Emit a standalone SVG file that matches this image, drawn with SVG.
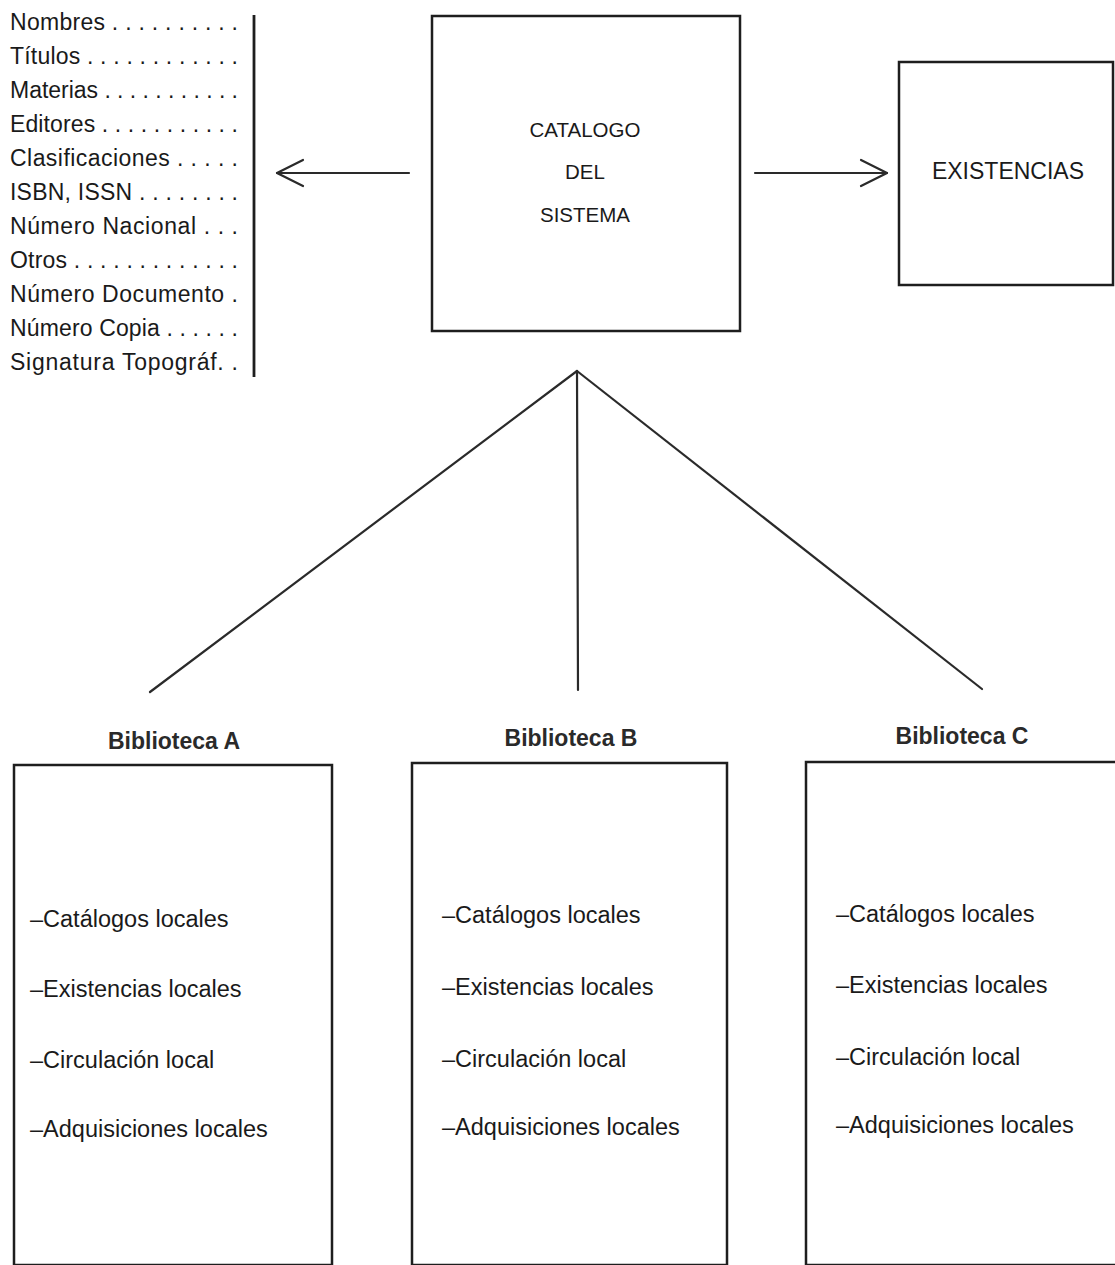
<svg xmlns="http://www.w3.org/2000/svg" width="1115" height="1265" viewBox="0 0 1115 1265">
<style>
.bg{fill:#ffffff}
.box{fill:none;stroke:#1e1e1e;stroke-width:2.5}
.ln{fill:none;stroke:#2a2a2a;stroke-width:2.2;stroke-linecap:round;stroke-linejoin:round}
.t{font-family:"Liberation Sans",Arial,Helvetica,sans-serif;fill:#1a1a1a}
.list{font-size:23px}
.cat{font-size:20.5px;text-anchor:middle}
.ex{font-size:23px;text-anchor:middle}
.title{font-size:23px;font-weight:bold;text-anchor:middle;fill:#2a2a2a}
.item{font-size:23.5px}
</style>
<rect class="bg" x="0" y="0" width="1115" height="1265"/>

<g id="index-list">
<text class="t list" x="10" y="30" textLength="228" lengthAdjust="spacing">Nombres . . . . . . . . . .</text>
<text class="t list" x="10" y="64" textLength="228" lengthAdjust="spacing">Títulos . . . . . . . . . . . .</text>
<text class="t list" x="10" y="98" textLength="228" lengthAdjust="spacing">Materias . . . . . . . . . . .</text>
<text class="t list" x="10" y="132" textLength="228" lengthAdjust="spacing">Editores . . . . . . . . . . .</text>
<text class="t list" x="10" y="166" textLength="228" lengthAdjust="spacing">Clasificaciones . . . . .</text>
<text class="t list" x="10" y="200" textLength="228" lengthAdjust="spacing">ISBN, ISSN . . . . . . . .</text>
<text class="t list" x="10" y="234" textLength="228" lengthAdjust="spacing">Número Nacional . . .</text>
<text class="t list" x="10" y="268" textLength="228" lengthAdjust="spacing">Otros . . . . . . . . . . . . .</text>
<text class="t list" x="10" y="302" textLength="228" lengthAdjust="spacing">Número Documento .</text>
<text class="t list" x="10" y="336" textLength="228" lengthAdjust="spacing">Número Copia . . . . . .</text>
<text class="t list" x="10" y="370" textLength="228" lengthAdjust="spacing">Signatura Topográf. .</text>
<line x1="254" y1="15" x2="254" y2="377" stroke="#1e1e1e" stroke-width="2.8"/>
</g>

<g id="catalogo">
<rect class="box" x="432" y="16" width="308" height="315"/>
<text class="t cat" x="585" y="137">CATALOGO</text>
<text class="t cat" x="585" y="179">DEL</text>
<text class="t cat" x="585" y="222">SISTEMA</text>
</g>

<g id="existencias">
<rect class="box" x="899" y="62" width="214" height="223"/>
<text class="t ex" x="1008" y="179">EXISTENCIAS</text>
</g>

<g id="connectors">
<line class="ln" x1="409" y1="173" x2="277" y2="173"/>
<polyline class="ln" points="303,160 277,173 303,186"/>
<line class="ln" x1="755" y1="173" x2="887" y2="173"/>
<polyline class="ln" points="861,160 887,173 861,186"/>
<line class="ln" x1="577" y1="371" x2="150" y2="692"/>
<line class="ln" x1="577" y1="371" x2="578" y2="690"/>
<line class="ln" x1="577" y1="371" x2="982" y2="689"/>
</g>

<g id="biblioteca-a">
<text class="t title" x="174" y="749">Biblioteca A</text>
<rect class="box" x="14" y="765" width="318" height="500"/>
<text class="t item" x="30" y="927">–Catálogos locales</text>
<text class="t item" x="30" y="997">–Existencias locales</text>
<text class="t item" x="30" y="1068">–Circulación local</text>
<text class="t item" x="30" y="1137">–Adquisiciones locales</text>
</g>

<g id="biblioteca-b">
<text class="t title" x="571" y="746">Biblioteca B</text>
<rect class="box" x="412" y="763" width="315" height="502"/>
<text class="t item" x="442" y="923">–Catálogos locales</text>
<text class="t item" x="442" y="995">–Existencias locales</text>
<text class="t item" x="442" y="1067">–Circulación local</text>
<text class="t item" x="442" y="1135">–Adquisiciones locales</text>
</g>

<g id="biblioteca-c">
<text class="t title" x="962" y="744">Biblioteca C</text>
<rect class="box" x="806" y="762" width="320" height="503"/>
<text class="t item" x="836" y="922">–Catálogos locales</text>
<text class="t item" x="836" y="993">–Existencias locales</text>
<text class="t item" x="836" y="1065">–Circulación local</text>
<text class="t item" x="836" y="1133">–Adquisiciones locales</text>
</g>
</svg>
